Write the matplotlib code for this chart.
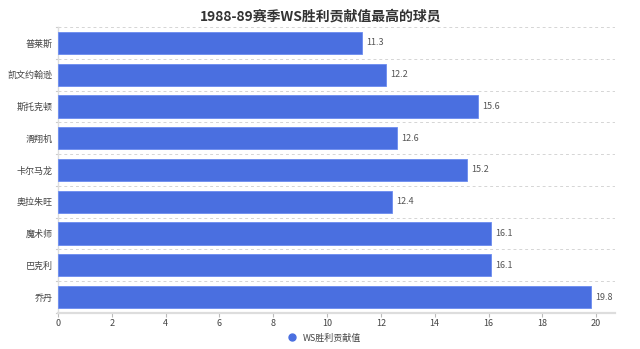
import matplotlib
matplotlib.use("Agg")
import matplotlib.pyplot as plt
from matplotlib.lines import Line2D

plt.rcParams['font.family'] = ['Noto Sans CJK SC', 'DejaVu Sans']

players = ["普莱斯", "凯文约翰逊", "斯托克顿", "滑翔机", "卡尔马龙", "奥拉朱旺", "魔术师", "巴克利", "乔丹"]
ws_values = [11.3, 12.2, 15.6, 12.6, 15.2, 12.4, 16.1, 16.1, 19.8]
x_ticks = [0, 2, 4, 6, 8, 10, 12, 14, 16, 18, 20]
series_name = "WS胜利贡献值"
title = "1988-89赛季WS胜利贡献值最高的球员"

bar_color = "#4a6fe0"

fig = plt.figure(figsize=(6.4, 3.49), dpi=100)
ax = fig.add_axes([58 / 640, 1 - 313 / 349, (615 - 58) / 640, (313 - 27) / 349])

pos = list(range(len(players)))
ax.barh(pos, ws_values, height=0.7, color=bar_color, edgecolor="#6b8cf0", linewidth=0.6, zorder=3)
for p, v in zip(pos, ws_values):
    ax.annotate(f"{v}", (v, p), xytext=(3, 0), textcoords="offset points",
                va="center", ha="left", fontsize=6.5, color="#555555")

ax.set_ylim(len(players) - 0.5, -0.5)
ax.set_xlim(0, 20.7)
ax.set_xticks(x_ticks)
ax.set_yticks(pos)
ax.set_yticklabels(players)
ax.tick_params(axis="y", length=0, labelsize=6.5, labelcolor="#444444", pad=4)
ax.tick_params(axis="x", length=3, color="#bbbbbb", labelsize=6.5, labelcolor="#444444", pad=1.5)

# dashed separators between categories
for b in [i + 0.5 for i in range(-1, len(players) - 1)]:
    ax.axhline(b, color="#d5d5d5", linestyle=(0, (3, 3)), linewidth=0.7, zorder=1)
for b in [i + 0.5 for i in range(-1, len(players))]:
    ax.plot([-0.08, 0], [b, b], color="#cccccc", linewidth=0.8, clip_on=False, zorder=2)

for s in ["top", "right"]:
    ax.spines[s].set_visible(False)
ax.spines["left"].set_color("#dddddd")
ax.spines["left"].set_linewidth(1.0)
ax.spines["bottom"].set_color("#dddddd")
ax.spines["bottom"].set_linewidth(1.6)

fig.text(321 / 640, 1 - 17 / 349, title, ha="center", va="center", fontsize=10, fontweight="bold", color="#333333")

handle = Line2D([], [], marker="o", linestyle="none", markersize=5, color=bar_color)
fig.legend([handle], [series_name], loc="center", bbox_to_anchor=(322 / 640, 1 - 338 / 349),
           frameon=False, fontsize=6.5, handletextpad=0.1, labelcolor="#444444")

fig.savefig("out.png", dpi=100)
